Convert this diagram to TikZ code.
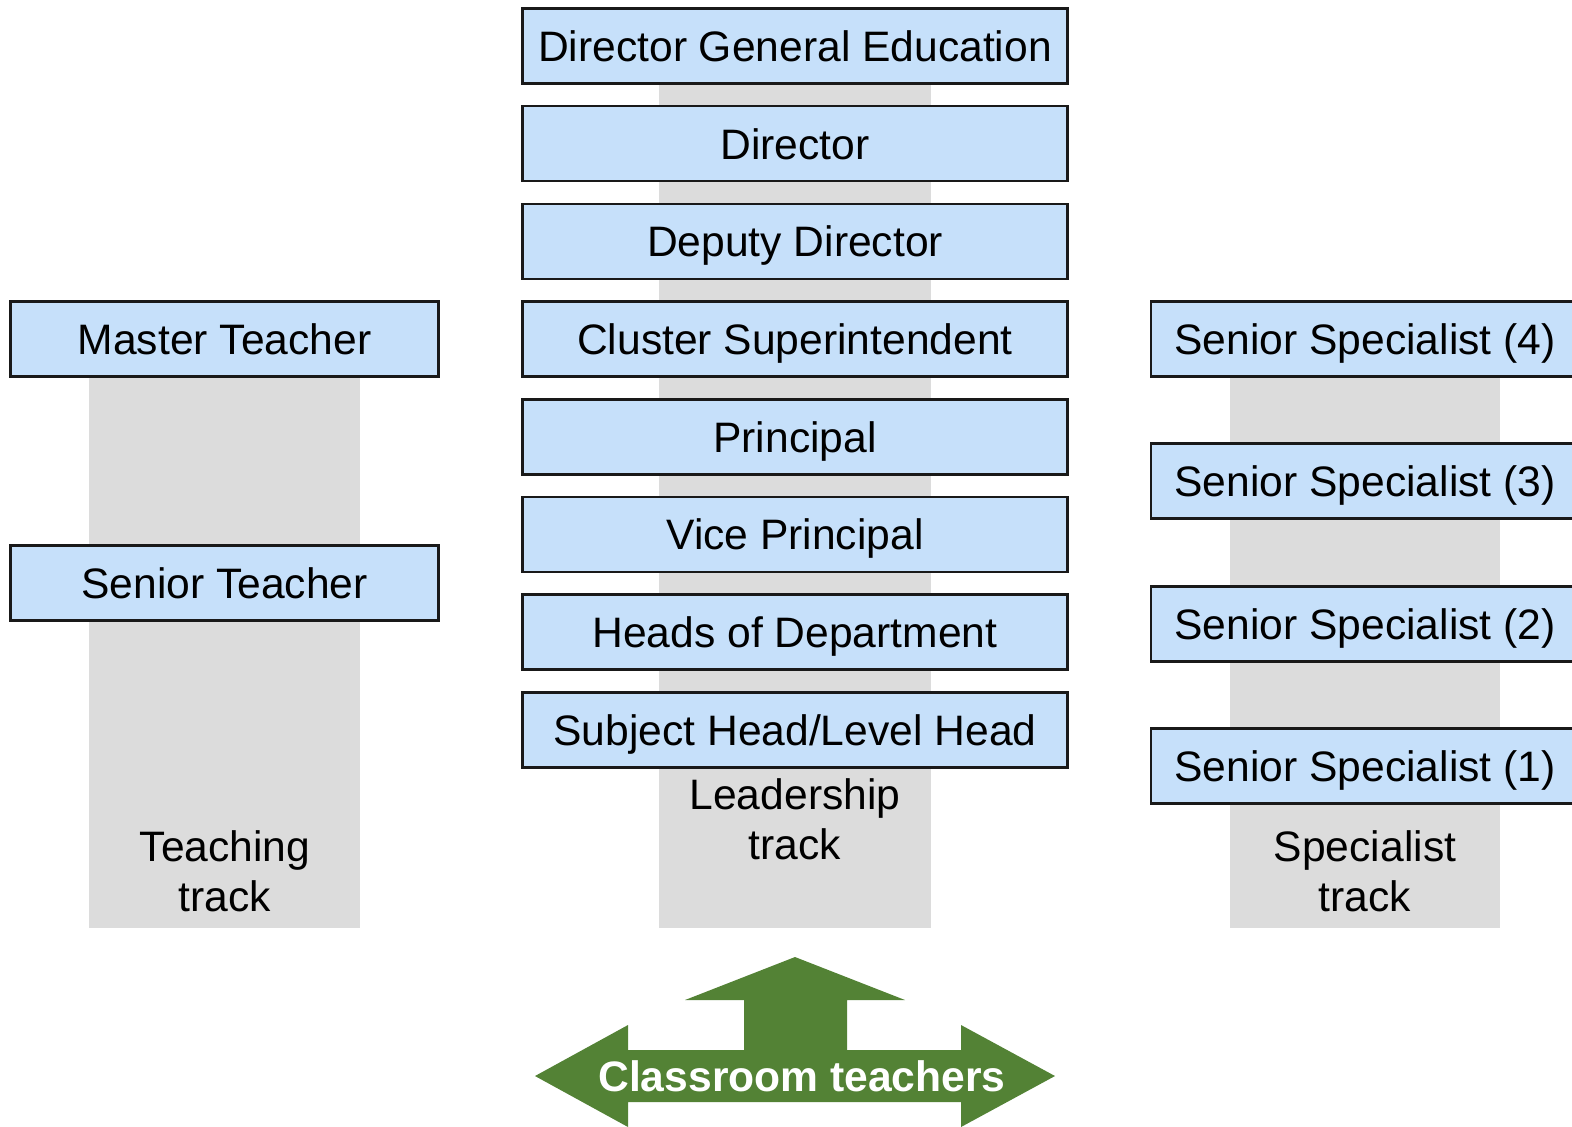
\documentclass[tikz,border=0pt]{standalone}
\usepackage{fontspec}
\setmainfont{Liberation Sans}

\definecolor{rungblue}{RGB}{198,224,250}
\definecolor{trackgray}{RGB}{220,220,220}
\definecolor{arrowgreen}{RGB}{83,130,53}

\tikzset{
    rung/.style={draw=black!90, line width=1.25pt, fill=rungblue, inner sep=0pt,
        minimum height=37.5pt, text height=15.3pt, text depth=0pt,
        font=\fontsize{21.3}{25}\selectfont},
    midrung/.style={rung, minimum width=272.5pt},
    siderung/.style={rung, minimum width=214pt},
    tracklabel/.style={align=center, inner sep=0pt, font=\fontsize{21.3}{25}\selectfont}
}

\begin{document}
\begin{tikzpicture}[x=0.5pt, y=-0.5pt]
            \useasboundingbox (0,0) rectangle (1572,1126);
            \clip (0,0) rectangle (1572,1126);

            \fill[trackgray] (89,378) rectangle (360,928);
            \fill[trackgray] (659,85) rectangle (931,928);
            \fill[trackgray] (1230,378) rectangle (1500,928);

            \node[midrung] (dge)   at (795,46)    {Director General Education};
            \node[midrung] (dir)   at (795,143.7) {Director};
            \node[midrung] (ddir)  at (795,241.4) {Deputy Director};
            \node[midrung] (csup)  at (795,339.1) {Cluster Superintendent};
            \node[midrung] (prin)  at (795,436.8) {Principal};
            \node[midrung] (vprin) at (795,534.5) {Vice Principal};
            \node[midrung] (hod)   at (795,632.2) {Heads of Department};
            \node[midrung] (shlh)  at (795,729.9) {Subject Head/Level Head};

            \node[siderung] (master) at (224.5,339) {Master Teacher};
            \node[siderung] (senior) at (224.5,583) {Senior Teacher};

            \node[siderung] (spec4) at (1365,339) {Senior Specialist (4)};
            \node[siderung] (spec3) at (1365,481) {Senior Specialist (3)};
            \node[siderung] (spec2) at (1365,624) {Senior Specialist (2)};
            \node[siderung] (spec1) at (1365,766) {Senior Specialist (1)};

            \node[tracklabel] (teachlbl) at (225,871)  {Teaching\\track};
            \node[tracklabel] (leadlbl)  at (795,819)  {Leadership\\track};
            \node[tracklabel] (speclbl)  at (1365,871) {Specialist\\track};

            \fill[arrowgreen] (535,1076) -- (628,1025) -- (628,1050) -- (744,1050)
                -- (744,1000) -- (685,1000) -- (795,957) -- (905,1000) -- (847,1000)
                -- (847,1050) -- (961,1050) -- (961,1025) -- (1055,1076) -- (961,1127)
                -- (961,1102) -- (628,1102) -- (628,1127) -- cycle;
            \node[text=white, inner sep=0pt, font=\fontsize{21.3}{25}\selectfont\bfseries]
                (classroom) at (802,1076) {Classroom teachers};
\end{tikzpicture}
\end{document}
